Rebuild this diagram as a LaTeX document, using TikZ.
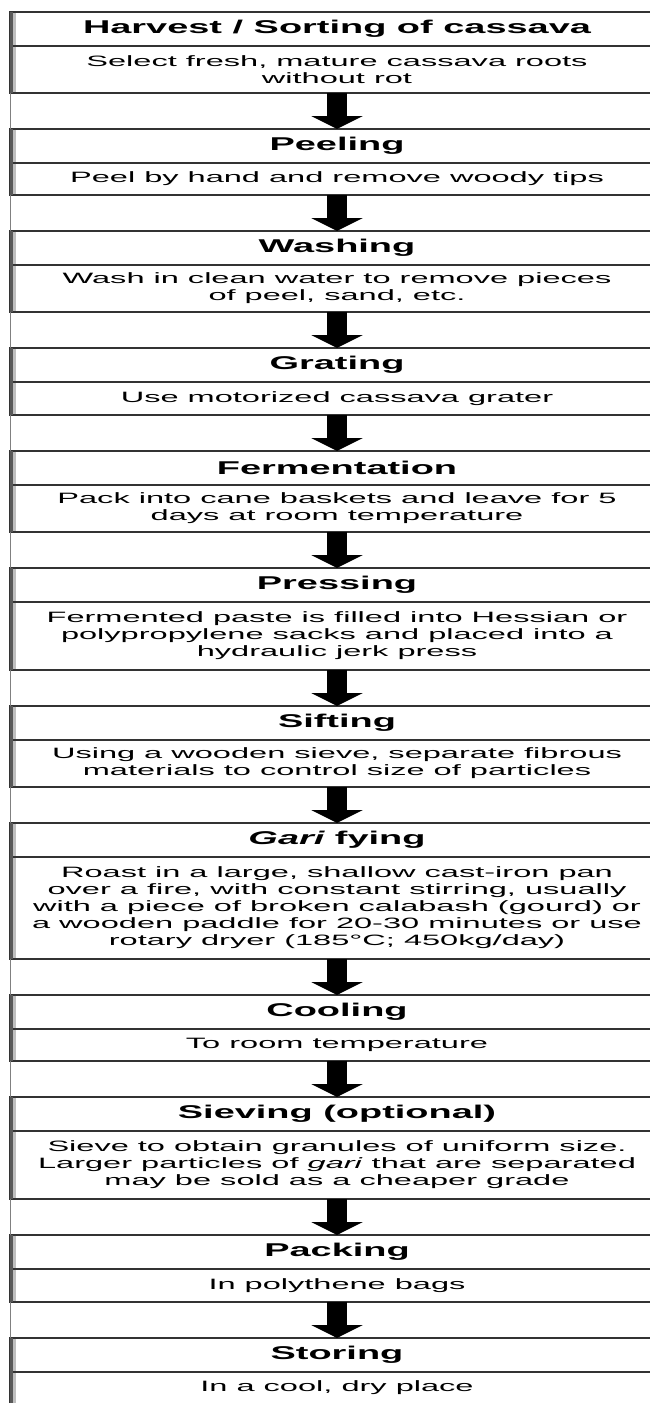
\documentclass[tikz,border=0pt]{standalone}
\usepackage{fontspec}
\newfontfamily\headfont[FakeStretch=2.05]{Liberation Sans}
\newfontfamily\bodyfont[FakeStretch=2.17]{Liberation Sans}
\usetikzlibrary{positioning,arrows.meta}
\tikzset{
  headbox/.style={draw=black!80, line width=1.5pt, outer sep=0pt, inner sep=0pt,
    minimum width=654pt, minimum height=34pt,
    font=\headfont\bfseries\fontsize{18.5}{20}\selectfont},
  bodybox/.style={draw=black!80, line width=1.5pt, outer sep=0pt, inner sep=0pt,
    minimum width=654pt, minimum height=#1, align=center,
    font=\bodyfont\fontsize{15}{17}\selectfont},
  bigarrow/.style={line width=20pt, -{Triangle[width=51pt,length=13pt]}},
  lightbar/.style={draw=black!25, line width=3.4pt},
  darkbar/.style={draw=black!65, line width=2.6pt},
}

\begin{document}
\begin{tikzpicture}[x=1pt,y=1pt]
  \path[use as bounding box] (0,0) rectangle (650,-1403);
  \clip (0,0) rectangle (650,-1403);
  % steps, top to bottom
  \node[headbox, anchor=north] (hharvest) at (337,-12) {Harvest / Sorting of cassava};
  \node[bodybox=47pt, below=0pt of hharvest] (bharvest) {Select fresh, mature cassava roots\\without rot};
  \node[headbox, below=36pt of bharvest] (hpeeling) {Peeling};
  \node[bodybox=32pt, below=0pt of hpeeling] (bpeeling) {Peel by hand and remove woody tips};
  \node[headbox, below=36pt of bpeeling] (hwashing) {Washing};
  \node[bodybox=47pt, below=0pt of hwashing] (bwashing) {Wash in clean water to remove pieces\\of peel, sand, etc.};
  \node[headbox, below=36pt of bwashing] (hgrating) {Grating};
  \node[bodybox=33pt, below=0pt of hgrating] (bgrating) {Use motorized cassava grater};
  \node[headbox, below=36pt of bgrating] (hferment) {Fermentation};
  \node[bodybox=47pt, below=0pt of hferment] (bferment) {Pack into cane baskets and leave for 5\\days at room temperature};
  \node[headbox, below=36pt of bferment] (hpressing) {Pressing};
  \node[bodybox=68pt, below=0pt of hpressing] (bpressing) {Fermented paste is filled into Hessian or\\polypropylene sacks and placed into a\\hydraulic jerk press};
  \node[headbox, below=36pt of bpressing] (hsifting) {Sifting};
  \node[bodybox=47pt, below=0pt of hsifting] (bsifting) {Using a wooden sieve, separate fibrous\\materials to control size of particles};
  \node[headbox, below=36pt of bsifting] (hfrying) {{\itshape Gari} fying};
  \node[bodybox=102pt, below=0pt of hfrying] (bfrying) {Roast in a large, shallow cast-iron pan\\over a fire, with constant stirring, usually\\with a piece of broken calabash (gourd) or\\a wooden paddle for 20-30 minutes or use\\rotary dryer (185°C; 450kg/day)};
  \node[headbox, below=36pt of bfrying] (hcooling) {Cooling};
  \node[bodybox=32pt, below=0pt of hcooling] (bcooling) {To room temperature};
  \node[headbox, below=36pt of bcooling] (hsieving) {Sieving (optional)};
  \node[bodybox=68pt, below=0pt of hsieving] (bsieving) {Sieve to obtain granules of uniform size.\\Larger particles of \textit{gari} that are separated\\may be sold as a cheaper grade};
  \node[headbox, below=36pt of bsieving] (hpacking) {Packing};
  \node[bodybox=33pt, below=0pt of hpacking] (bpacking) {In polythene bags};
  \node[headbox, below=36pt of bpacking] (hstoring) {Storing};
  \node[bodybox=32pt, below=0pt of hstoring] (bstoring) {In a cool, dry place};
  % left edge
  \draw[gray, line width=1pt] (hharvest.north west) -- (bstoring.south west);
  \foreach \s in {harvest,peeling,washing,grating,ferment,pressing,sifting,frying,cooling,sieving,packing,storing} {
    \draw[lightbar] ([xshift=4.3pt,yshift=-0.75pt]h\s.north west) -- ([xshift=4.3pt,yshift=0.75pt]h\s.south west);
    \draw[lightbar] ([xshift=4.3pt,yshift=-0.75pt]b\s.north west) -- ([xshift=4.3pt,yshift=0.75pt]b\s.south west);
    \draw[darkbar] ([xshift=1.3pt]h\s.north west) -- ([xshift=1.3pt]b\s.south west);
  }
  % arrows
  \foreach \a/\b in {harvest/peeling,peeling/washing,washing/grating,grating/ferment,ferment/pressing,pressing/sifting,sifting/frying,frying/cooling,cooling/sieving,sieving/packing,packing/storing}
    \draw[bigarrow] (b\a.south) -- (h\b.north);
\end{tikzpicture}
\end{document}
